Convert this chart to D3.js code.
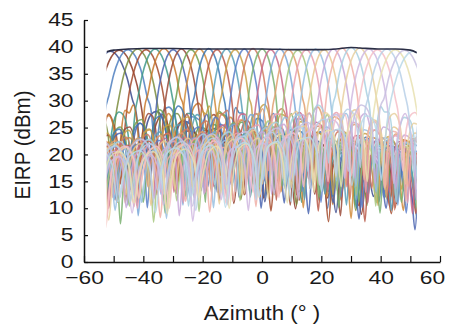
<!DOCTYPE html>
<html><head><meta charset="utf-8">
<script src="https://cdn.jsdelivr.net/npm/d3@7"></script>
<style>body{margin:0;background:#fff}svg{display:block}text{font-family:"Liberation Sans",Arial,sans-serif;fill:#1a1a1a}</style>
</head><body><svg id="c" width="451" height="326"></svg>
<script>
// ---- data ----
const xTickValues = [-60,-50,-40,-30,-20,-10,0,10,20,30,40,50,60];
const xTickLabels = [-60,-40,-20,0,20,40,60];
const yTickValues = [0,5,10,15,20,25,30,35,40,45];
const azRange = [-52.4, 52.2];
const beamCenters = [-51,-48.2,-45.1,-42,-39,-36.1,-33,-30,-27.1,-24,-21,-18,-15.1,-12,-9,-6,-3,0,3,6,9,12,15,18,21,24,27,30,33,36,39,42,45,48,51];
const beamPeaks = [39.2,39.4,39.5,39.6,39.5,39.6,39.7,39.5,39.6,39.5,39.6,39.7,39.5,39.6,39.5,39.6,39.7,39.6,39.5,39.6,39.5,39.4,39.5,39.6,39.5,39.6,39.8,39.9,39.8,39.6,39.5,39.6,39.5,39.4,39.2];
const beamWidth = [1.83,1.72,1.62,1.55,1.48,1.43,1.37,1.32,1.29,1.25,1.23,1.21,1.2,1.17,1.16,1.15,1.15,1.15,1.15,1.15,1.16,1.17,1.2,1.21,1.23,1.25,1.29,1.32,1.37,1.43,1.48,1.55,1.62,1.72,1.83];
const sidelobeShift = [1,-0.5,1.5,0,-1,0.5,2,-1.5,0,1,-0.5,1.5,-1,0,2,-0.5,1,-1.5,0.5,0,1.5,-1,0.5,-0.5,1,0,-1.5,1.5,0,-1,0.5,1,-0.5,2,0];
const beamColors = ["#3b4a8c","#8c3a24","#4f7fbf","#7a8c3c","#a34a2c","#3f9a8a","#c8782c","#4a64b0","#9a4a38","#6fa050","#d08a3a","#3c78b4","#b85a4a","#5aa0b8","#c8a048","#5a7ec8","#d07a60","#7ab070","#c86a8a","#7aa8d8","#e0a070","#a8c880","#e8a0b0","#98c0e0","#e8c890","#c8a8d8","#f0b0a8","#a8d0e0","#e8d0a0","#d0b8e0","#f4c0c8","#b8d0e8","#e8e0b0","#c8c0e0","#b8d8e8"];
// relative beam pattern (offset deg, dB rel. peak), two measured shapes
const patternA = [[0,0],[1,-0.5],[2,-2],[3,-4.6],[4,-8.5],[4.8,-13],[5.4,-19],[5.9,-24],[6.5,-17],[7.6,-12.5],[8.6,-12],[9.6,-13.5],[10.6,-18],[11.3,-25],[12.1,-18],[13.6,-14.5],[15,-15],[16.2,-19],[16.9,-26],[17.7,-19],[19.2,-16],[20.6,-16.5],[21.8,-21],[22.5,-28],[23.4,-20.5],[25,-16.8],[26.5,-17.5],[27.7,-22],[28.4,-27],[29.3,-20],[31,-17],[32.6,-18],[33.8,-23],[34.6,-29],[35.5,-21],[37.2,-17.5],[38.8,-18.5],[40.1,-23],[40.9,-27],[41.9,-20.5],[43.7,-18],[45.4,-19],[46.7,-24],[47.5,-30],[48.5,-22],[50.4,-18.5],[52.2,-19.5],[53.6,-24],[54.4,-28],[55.5,-21],[57.5,-18.5],[59.4,-19.5],[60.9,-25],[61.8,-32],[62.9,-22],[65,-19],[67,-20],[68.6,-24.5],[69.5,-28.5],[70.7,-22],[73,-19.5],[75.2,-20.5],[76.9,-25],[77.9,-30],[79.1,-22.5],[81.5,-20],[83.8,-21],[85.6,-25],[86.6,-28],[87.9,-23],[90.4,-20.5],[92.8,-21.5],[94.7,-25.5],[95.8,-31],[97.2,-23.5],[99.8,-21],[102.4,-22],[104.3,-26],[105.5,-29]];
const patternB = [[0,0],[1,-0.6],[2,-2.2],[3,-4.9],[4,-9],[4.7,-12.5],[5.3,-18],[5.7,-23],[6.3,-16.5],[7.4,-12.8],[8.4,-12.2],[9.4,-13.2],[10.4,-17.5],[11,-24.5],[11.8,-17.5],[13.3,-14],[14.8,-14.6],[16,-18.5],[16.6,-27],[17.5,-18],[19,-15.4],[20.5,-16.2],[21.6,-20.5],[22.3,-26],[23.2,-19.5],[24.9,-16.5],[26.5,-17.4],[27.6,-22],[28.4,-29],[29.3,-20.5],[31.1,-17.2],[32.8,-18],[34,-22.5],[34.8,-27],[35.8,-20.5],[37.6,-17.6],[39.3,-18.6],[40.6,-23.5],[41.5,-31],[42.5,-21],[44.4,-18.2],[46.2,-19.2],[47.6,-24],[48.4,-28],[49.5,-21.5],[51.5,-18.6],[53.4,-19.8],[54.9,-24.5],[55.8,-29.5],[56.9,-22],[59,-19],[61,-20.2],[62.6,-25],[63.5,-27.5],[64.7,-22],[67,-19.6],[69.2,-20.6],[70.9,-25],[71.9,-31],[73.1,-22.5],[75.5,-20.2],[77.8,-21.2],[79.6,-25],[80.6,-28.5],[81.9,-23],[84.4,-20.6],[86.8,-21.6],[88.7,-25.5],[89.8,-30],[91.2,-23.5],[93.8,-21],[96.3,-22],[98.3,-26],[99.4,-28],[100.8,-24],[103.4,-21.5],[105.5,-23]];
const envAz   = [-52.4,-50,-45,-40,-30,-20,-10,0,10,20,25,30,33,40,45,50,52.2];
const envEirp = [39.1,39.4,39.6,39.7,39.7,39.6,39.6,39.6,39.5,39.5,39.6,39.9,39.8,39.6,39.6,39.4,38.9];

// ---- drawing ----
const svg = d3.select("#c");
const x = d3.scaleLinear().domain([-60,60]).range([84,440]);
const y = d3.scaleLinear().domain([0,45]).range([262,20]);

const defs = svg.append("defs");
defs.append("clipPath").attr("id","clip").append("rect")
  .attr("x", x(azRange[0])).attr("width", x(azRange[1]) - x(azRange[0]))
  .attr("y", 0).attr("height", y(0));
defs.append("filter").attr("id","soft").attr("x","-5%").attr("y","-5%").attr("width","110%").attr("height","110%")
  .append("feGaussianBlur").attr("stdDeviation",0.4);

function beamPoints(i){
  const c = beamCenters[i], w = beamWidth[i], p = beamPeaks[i], s = sidelobeShift[i];
  const right = i % 2 ? patternA : patternB;
  const left  = i % 2 ? patternB : patternA;
  const adj = r => r < -12 ? r + s : r;
  const pts = [];
  for (let k = left.length - 1; k > 0; k--) pts.push([c - left[k][0]*w, p + adj(left[k][1])]);
  for (const q of right) pts.push([c + q[0]*w, p + adj(q[1])]);
  return pts;
}
const line = d3.line().x(d => x(d[0])).y(d => y(d[1])).curve(d3.curveMonotoneX);

const g = svg.append("g").attr("clip-path","url(#clip)").append("g").attr("filter","url(#soft)");
g.selectAll("path.beam").data(beamCenters.map((c,i)=>i)).join("path")
  .attr("class","beam")
  .attr("d", i => line(beamPoints(i)))
  .attr("fill","none").attr("stroke", i => beamColors[i])
  .attr("stroke-width",1.6).attr("stroke-opacity",0.85);

g.append("path").attr("d", line(envAz.map((a,i)=>[a, envEirp[i]])))
  .attr("fill","none").attr("stroke","#2a2d45").attr("stroke-width",1.6);

// axes
const xAxis = svg.append("g").attr("transform",`translate(0,${y(0)})`)
  .call(d3.axisBottom(x).tickValues(xTickValues).tickSizeInner(-6).tickSizeOuter(0)
    .tickFormat(d => xTickLabels.includes(d) ? d3.format("d")(d) : ""));
xAxis.select(".domain").attr("stroke","#111").attr("stroke-width",1.5);
xAxis.selectAll(".tick line").attr("stroke","#111").attr("stroke-width",1.2);
xAxis.selectAll(".tick text").attr("y",22).attr("dy",0)
  .attr("transform", d => d === 60 ? "translate(-8,0) scale(1.2,1)" : "scale(1.2,1)")
  .style("font-size","19px").attr("fill","#1a1a1a");

const yAxis = svg.append("g").attr("transform",`translate(${x(-60)},0)`)
  .call(d3.axisLeft(y).tickValues(yTickValues).tickSizeInner(-4).tickSizeOuter(0));
yAxis.select(".domain").attr("stroke","#111").attr("stroke-width",1.5);
yAxis.selectAll(".tick line").attr("stroke","#111").attr("stroke-width",1.2);
yAxis.selectAll(".tick text").attr("x",0).attr("dy","0.3em")
  .attr("transform","translate(-10.5,0) scale(1.2,1)").style("font-size","19px").attr("fill","#1a1a1a");

svg.append("text").attr("transform","translate(262,320) scale(1.06,1)")
  .attr("text-anchor","middle").style("font-size","21px").text("Azimuth (° )");
svg.append("text").attr("transform","translate(29.5,145) rotate(-90) scale(1.08,1.15)")
  .attr("text-anchor","middle").style("font-size","19px").text("EIRP (dBm)");
</script></body></html>
